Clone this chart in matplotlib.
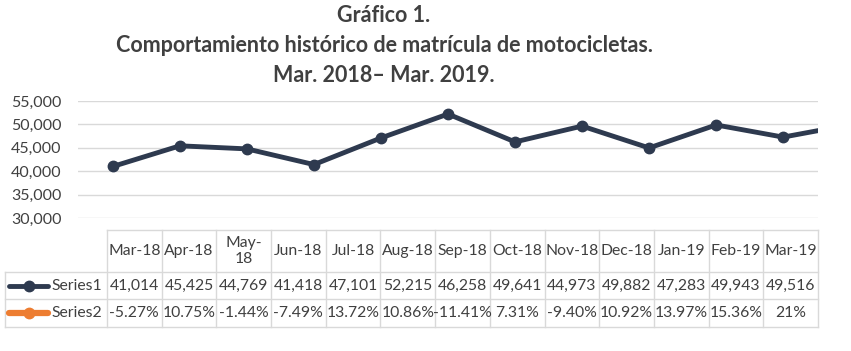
import matplotlib
matplotlib.use("Agg")
import matplotlib.pyplot as plt
from matplotlib.ticker import FuncFormatter

plt.rcParams['font.family'] = ['Lato', 'DejaVu Sans']

# data
months = ['Mar-18', 'Apr-18', 'May-18', 'Jun-18', 'Jul-18', 'Aug-18', 'Sep-18',
          'Oct-18', 'Nov-18', 'Dec-18', 'Jan-19', 'Feb-19', 'Mar-19']
header_labels = ['Mar-18', 'Apr-18', 'May-\n18', 'Jun-18', 'Jul-18', 'Aug-18', 'Sep-18',
                 'Oct-18', 'Nov-18', 'Dec-18', 'Jan-19', 'Feb-19', 'Mar-19']
series1 = [41014, 45425, 44769, 41418, 47101, 52215, 46258,
           49641, 44973, 49882, 47283, 49943, 49516]
series2 = ['-5.27%', '10.75%', '-1.44%', '-7.49%', '13.72%', '10.86%', '-11.41%',
           '7.31%', '-9.40%', '10.92%', '13.97%', '15.36%', '21%']

NAVY = '#2e3a4f'
ORANGE = '#ed7d31'
TXT = '#404040'
GRID = '#d9d9d9'
FS = 11.3

W, H = 851, 351
fig = plt.figure(figsize=(W / 100, H / 100), dpi=100)


def fx(px):
    return px / W


def fy(py):
    return 1 - py / H


# title
title_lines = ['Gráfico 1.',
               'Comportamiento histórico de matrícula de motocicletas.',
               'Mar. 2018\u2013 Mar. 2019.']
for i, t in enumerate(title_lines):
    fig.text(fx(384), fy(15 + 30 * i), t, ha='center', va='center',
             fontsize=15.5, fontweight='bold', color=TXT)

# line chart
ax = fig.add_axes([fx(78), fy(218), (818 - 78) / W, (218 - 101) / H])
ax.plot(range(len(series1)), series1, color=NAVY, lw=3.5, marker='o', ms=7.5,
        solid_capstyle='round', zorder=3)
ax.set_xlim(-0.52, 10.52)
ax.set_ylim(30000, 55000)
ax.set_yticks(range(30000, 55001, 5000))
ax.yaxis.set_major_formatter(FuncFormatter(lambda v, p: f'{int(v):,}'))
ax.yaxis.grid(True, color=GRID, lw=1)
ax.set_xticks([])
ax.tick_params(axis='y', length=0, pad=12, labelsize=11.5, labelcolor=TXT)
for s in ax.spines.values():
    s.set_visible(False)

# data table
tax = fig.add_axes([0, 0, 1, 1])
tax.set_xlim(0, W)
tax.set_ylim(H, 0)
tax.axis('off')

x0, x1 = 107, 818
n = len(months)
cw = (x1 - x0) / n
rows = [230, 272, 299, 327]
lk = dict(color=GRID, lw=1)
# horizontal borders
tax.plot([x0, x1], [rows[0], rows[0]], **lk)
for yy in rows[1:]:
    tax.plot([5, x1], [yy, yy], **lk)
# vertical borders
for i in range(n + 1):
    tax.plot([x0 + i * cw] * 2, [rows[0], rows[3]], **lk)
tax.plot([5, 5], [rows[1], rows[3]], **lk)

for i in range(n):
    cx = x0 + (i + 0.5) * cw
    tax.text(cx, (rows[0] + rows[1]) / 2, header_labels[i], ha='center', va='center',
             fontsize=FS, color=TXT, linespacing=1.1)
    tax.text(cx, (rows[1] + rows[2]) / 2, f'{series1[i]:,}', ha='center', va='center',
             fontsize=FS, color=TXT)
    tax.text(cx, (rows[2] + rows[3]) / 2, series2[i], ha='center', va='center',
             fontsize=FS, color=TXT)

# legend keys
for (r, name, col, lw) in [(1, 'Series1', NAVY, 3.5), (2, 'Series2', ORANGE, 4.5)]:
    cy = (rows[r] + rows[r + 1]) / 2
    tax.plot([9, 48], [cy, cy], color=col, lw=lw, solid_capstyle='round')
    tax.plot([29], [cy], color=col, marker='o', ms=7.5)
    tax.text(102, cy, name, ha='right', va='center', fontsize=FS, color=TXT)

fig.savefig('out.png', dpi=100, facecolor='white')
